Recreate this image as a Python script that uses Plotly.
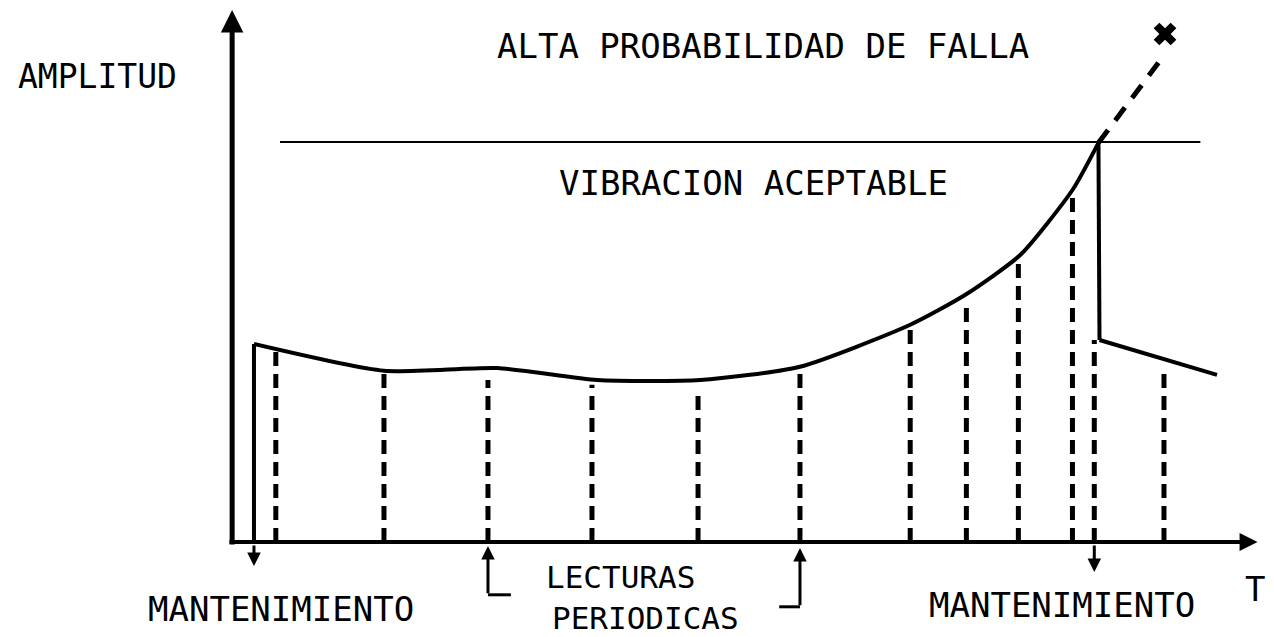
import plotly.graph_objects as go

# time in reading periods, amplitude in arbitrary units (limit = 10)
curva_t = [-0.25, 1.0, 2.09, 3.05, 4.04, 5.0, 6.06, 6.59, 7.12, 7.62, 7.87]
curva_a = [4.95, 4.28, 4.35, 4.05, 4.05, 4.38, 5.43, 6.18, 7.18, 8.8, 9.98]

# after maintenance
post_t = [7.88, 9.01]
post_a = [5.05, 4.18]

# periodic readings (dashed verticals)
lectura_t = [-0.04, 1.0, 2.0, 3.0, 4.02, 5.0, 6.06, 6.6, 7.1, 7.62, 7.83, 8.5]
lectura_a = [4.8, 4.25, 4.05, 3.93, 3.8, 4.3, 5.3, 6.05, 7.1, 8.75, 5.05, 4.35]

mant_t = [-0.25, 7.87]
limite = 10
falla_t = [7.87, 8.51]
falla_a = [9.98, 12.7]

FONT = "DejaVu Sans Mono"

fig = go.Figure()

# dashed reading lines
xs, ys = [], []
for t, a in zip(lectura_t, lectura_a):
    xs += [t, t, None]
    ys += [0, a, None]
fig.add_trace(go.Scatter(x=xs, y=ys, mode="lines",
                         line=dict(color="black", width=5, dash="14px,8px")))

# amplitude curve
fig.add_trace(go.Scatter(x=curva_t, y=curva_a, mode="lines",
                         line=dict(color="black", width=4, shape="spline", smoothing=0.6)))
fig.add_trace(go.Scatter(x=post_t, y=post_a, mode="lines",
                         line=dict(color="black", width=4)))

# maintenance verticals (solid)
fig.add_trace(go.Scatter(x=[mant_t[0], mant_t[0]], y=[0, curva_a[0]], mode="lines",
                         line=dict(color="black", width=4)))
fig.add_trace(go.Scatter(x=[mant_t[1], post_t[0]], y=[curva_a[-1], post_a[0]], mode="lines",
                         line=dict(color="black", width=4)))

# acceptable limit
fig.add_trace(go.Scatter(x=[0, 8.85], y=[limite, limite], mode="lines",
                         line=dict(color="black", width=2)))

# failure extrapolation
fig.add_trace(go.Scatter(x=falla_t, y=[falla_a[0], falla_a[1] - 0.5], mode="lines",
                         line=dict(color="black", width=5, dash="16px,12px")))
fig.add_trace(go.Scatter(x=[falla_t[1]], y=[falla_a[1]], mode="markers",
                         marker=dict(symbol="x", size=20, color="black")))

# axes with arrows
arrows = [
    (-0.46, -0.1, -0.46, 13.3, 5),   # amplitude axis
    (-0.5, 0, 9.4, 0, 4),            # time axis
    (mant_t[0], -0.05, mant_t[0], -0.6, 3),
    (mant_t[1] - 0.04, -0.05, mant_t[1] - 0.04, -0.75, 3),
    (2.0, -1.32, 2.0, -0.1, 3),
    (5.0, -1.62, 5.0, -0.15, 3),
]
for x0, y0, x1, y1, w in arrows:
    fig.add_annotation(x=x1, y=y1, ax=x0, ay=y0, xref="x", yref="y", axref="x", ayref="y",
                       showarrow=True, arrowhead=2, arrowsize=0.9, arrowwidth=w,
                       arrowcolor="black", text="")

# hooks on the reading arrows
fig.add_trace(go.Scatter(x=[2.0, 2.22, None, 5.0, 4.8], y=[-1.32, -1.32, None, -1.62, -1.62],
                         mode="lines", line=dict(color="black", width=3)))

textos = [
    ("AMPLITUD", -1.75, 11.65, 33),
    ("ALTA PROBABILIDAD DE FALLA", 4.64, 12.4, 34),
    ("VIBRACION ACEPTABLE", 4.55, 8.98, 34),
    ("MANTENIMIENTO", 0.01, -1.68, 34),
    ("LECTURAS", 3.27, -0.88, 31),
    ("PERIODICAS", 3.51, -1.9, 31),
    ("MANTENIMIENTO", 7.52, -1.58, 34),
    ("T", 9.375, -1.18, 34),
]
for txt, x, y, s in textos:
    fig.add_annotation(x=x, y=y, xref="x", yref="y", text=txt, showarrow=False,
                       font=dict(family=FONT, size=s, color="black"))

fig.update_layout(
    width=1274, height=637,
    margin=dict(l=0, r=0, t=0, b=0),
    paper_bgcolor="white", plot_bgcolor="white",
    showlegend=False,
    xaxis=dict(range=[-2.692, 9.558], visible=False, fixedrange=True),
    yaxis=dict(range=[-2.375, 13.55], visible=False, fixedrange=True),
)

fig.write_html("out.html", config={"displayModeBar": False},
               post_script="document.body.style.margin='0';document.body.style.overflow='hidden';")
